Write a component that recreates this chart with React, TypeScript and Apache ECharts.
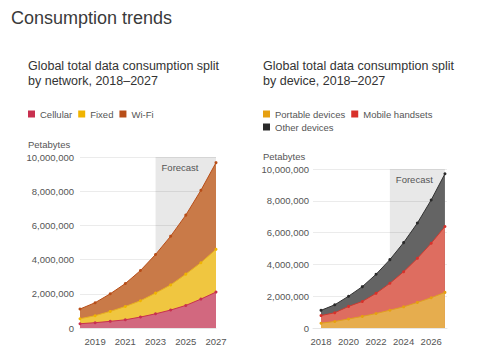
import React, { useEffect, useRef } from "react";
import * as echarts from "echarts";

const years = [2018, 2019, 2020, 2021, 2022, 2023, 2024, 2025, 2026, 2027];

// Left chart: split by network (petabytes)
const cellular = [250000, 310000, 390000, 480000, 640000, 830000, 1050000, 1320000, 1690000, 2100000];
const fixedNet = [290000, 410000, 580000, 780000, 950000, 1210000, 1470000, 1830000, 2130000, 2500000];
const wifi = [570000, 760000, 1030000, 1340000, 1770000, 2260000, 2850000, 3450000, 4230000, 5070000];

// Right chart: split by device (petabytes)
const portable = [300000, 410000, 570000, 730000, 910000, 1120000, 1330000, 1610000, 1900000, 2240000];
const mobile = [480000, 550000, 790000, 940000, 1270000, 1690000, 2210000, 2770000, 3430000, 4140000];
const otherDev = [330000, 500000, 640000, 930000, 1200000, 1490000, 1830000, 2220000, 2720000, 3320000];

const leftTicks = [2019, 2021, 2023, 2025, 2027];
const rightTicks = [2018, 2020, 2022, 2024, 2026];

const FONT = "Liberation Sans, Arial, Helvetica, sans-serif";

// cumulative stacking (bottom -> top)
function cumulative(layers: number[][]) {
  const out: number[][] = [];
  let acc = years.map(() => 0);
  for (const l of layers) {
    acc = acc.map((v, i) => v + l[i]);
    out.push(acc.slice());
  }
  return out;
}

function pairs(vals: number[]) {
  return years.map((y, i) => [y, vals[i]]);
}

export default function App() {
  const ref = useRef<HTMLDivElement>(null);
  useEffect(() => {
    if (!ref.current) return;
    const chart = echarts.init(ref.current, undefined, { renderer: "svg" });

    const mkSeries = (
      name: string,
      vals: number[],
      idx: number,
      dot: string,
      line: string,
      fill: string,
      forecast: boolean
    ) => {
      const s: any = {
        name,
        type: "line",
        xAxisIndex: idx,
        yAxisIndex: idx,
        data: pairs(vals),
        symbol: "circle",
        symbolSize: 3,
        showSymbol: true,
        itemStyle: { color: dot },
        lineStyle: { color: line, width: 1 },
        areaStyle: { color: fill, opacity: 1 },
        emphasis: { disabled: true },
      };
      if (forecast) {
        s.markArea = {
          silent: true,
          itemStyle: { color: "rgba(0,0,0,0.09)" },
          label: {
            show: true,
            position: "insideTopLeft",
            offset: [1, 0],
            color: "#555",
            fontSize: 9.5,
            fontFamily: FONT,
          },
          data: [[{ name: "Forecast", xAxis: 2023, yAxis: 0 }, { xAxis: 2027, yAxis: 10000000 }]],
        };
      }
      return s;
    };

    const yAxisCommon = (idx: number) => ({
      type: "value",
      gridIndex: idx,
      min: 0,
      max: 10000000,
      interval: 2000000,
      axisLine: { show: false },
      axisTick: { show: false },
      splitLine: { lineStyle: { color: "#ebebeb", width: 1 } },
      axisLabel: {
        color: "#555",
        fontSize: 9.5,
        fontFamily: FONT,
        margin: idx === 0 ? 6 : 4,
        formatter: (v: number) => v.toLocaleString("en-US"),
      },
    });

    const xAxisCommon = (idx: number, min: number, max: number, ticks: number[]) => ({
      type: "value",
      gridIndex: idx,
      min,
      max,
      axisLine: { show: true, lineStyle: { color: "#e6e6e6" } },
      axisTick: { show: false },
      splitLine: { show: false },
      axisLabel: {
        color: "#555",
        fontSize: 9.5,
        fontFamily: FONT,
        margin: 8,
        customValues: ticks,
        formatter: (v: number) => String(v),
      },
    });

    const legendText = { color: "#555", fontSize: 9.5, fontFamily: FONT };
    const legendBase = {
      itemWidth: 7,
      itemHeight: 7,
      itemGap: 6,
      icon: "rect",
      textStyle: legendText,
      selectedMode: false,
      padding: 0,
    };

    const [cCell, cFixed, cWifi] = cumulative([cellular, fixedNet, wifi]);
    const [cPort, cMob, cOther] = cumulative([portable, mobile, otherDev]);

    chart.setOption({
      animation: false,
      backgroundColor: "#fff",
      textStyle: { fontFamily: FONT },
      grid: [
        { left: 80, right: 261, top: 157, bottom: 27 },
        { left: 313, right: 30, top: 169, bottom: 27 },
      ],
      xAxis: [
        xAxisCommon(0, 2018, 2027, leftTicks),
        xAxisCommon(1, 2017.42, 2027.15, rightTicks),
      ],
      yAxis: [yAxisCommon(0), yAxisCommon(1)],
      legend: [
        { ...legendBase, left: 28, top: 109, data: ["Cellular", "Fixed", "Wi-Fi"] },
        { ...legendBase, left: 263, top: 109, data: ["Portable devices", "Mobile handsets"] },
        { ...legendBase, left: 263, top: 122, data: ["Other devices"] },
      ],
      graphic: [
        {
          type: "text",
          left: 11,
          top: 9,
          style: { text: "Consumption trends", fontSize: 18, fill: "#3a3a3a", fontFamily: FONT },
        },
        {
          type: "text",
          left: 28,
          top: 59,
          style: {
            text: "Global total data consumption split\nby network, 2018\u20132027",
            fontSize: 12.5,
            lineHeight: 14.5,
            fill: "#333",
            fontFamily: FONT,
          },
        },
        {
          type: "text",
          left: 263,
          top: 59,
          style: {
            text: "Global total data consumption split\nby device, 2018\u20132027",
            fontSize: 12.5,
            lineHeight: 14.5,
            fill: "#333",
            fontFamily: FONT,
          },
        },
        {
          type: "text",
          left: 28,
          top: 139,
          style: { text: "Petabytes", fontSize: 9.5, fill: "#555", fontFamily: FONT },
        },
        {
          type: "text",
          left: 263,
          top: 151,
          style: { text: "Petabytes", fontSize: 9.5, fill: "#555", fontFamily: FONT },
        },
      ],
      series: [
        mkSeries("Wi-Fi", cWifi, 0, "#b84e18", "#b84e18", "#c97a48", false),
        mkSeries("Fixed", cFixed, 0, "#f0b400", "#e8b020", "#f0c640", false),
        mkSeries("Cellular", cCell, 0, "#c8304f", "#c8304f", "#d2687f", true),
        mkSeries("Other devices", cOther, 1, "#2a2a2a", "#333", "#646464", false),
        mkSeries("Mobile handsets", cMob, 1, "#d8302a", "#cc3a30", "#de6d60", false),
        mkSeries("Portable devices", cPort, 1, "#e6a010", "#e0a020", "#e6ad4e", true),
      ],
    });

    return () => chart.dispose();
  }, []);

  return (
    <div
      ref={ref}
      style={{ position: "absolute", left: 0, top: 0, width: 477, height: 355 }}
    />
  );
}
